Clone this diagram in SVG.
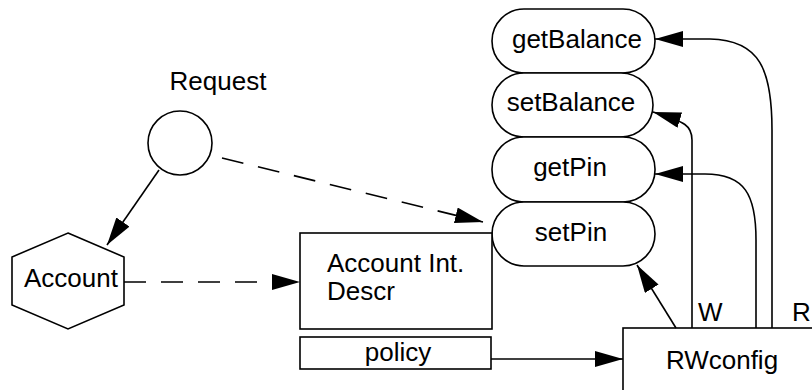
<svg xmlns="http://www.w3.org/2000/svg" width="812" height="390" viewBox="0 0 812 390">
<defs>
<style>
.s{fill:#fff;stroke:#000;stroke-width:1.6}
.t{font-family:"Liberation Sans",Arial,sans-serif;font-size:26px;fill:#000}
.m{text-anchor:middle}
.c{fill:none;stroke:#000;stroke-width:1.6}
.d{stroke-dasharray:22,15}
</style>
<marker id="ah" markerUnits="userSpaceOnUse" markerWidth="30" markerHeight="18" refX="28" refY="8" orient="auto">
<path d="M0,0 L28,8 L0,16 z" fill="#000"/>
</marker>
</defs>
<rect width="812" height="390" fill="#fff"/>
<g id="getBalance"><rect class="s" x="492" y="9" width="163" height="64" rx="32"/><text class="t m" x="577" y="48">getBalance</text></g>
<g id="setBalance"><rect class="s" x="492" y="73" width="161" height="64" rx="32"/><text class="t m" x="571" y="111">setBalance</text></g>
<g id="getPin"><rect class="s" x="492" y="137" width="163" height="65" rx="32"/><text class="t m" x="570" y="176">getPin</text></g>
<g id="setPin"><rect class="s" x="492" y="202" width="163" height="64" rx="32"/><text class="t m" x="571" y="241">setPin</text></g>
<g id="request"><circle class="s" cx="180" cy="143" r="32"/><text class="t m" x="218" y="90">Request</text></g>
<g id="account"><polygon class="s" points="68,233 124,257 124,305 68,329 12,305 12,257"/><text class="t" x="24" y="287">Account</text></g>
<g id="accountIntDescr"><rect class="s" x="300" y="233" width="192" height="96"/><text class="t" x="327" y="272">Account Int.</text><text class="t" x="327" y="300">Descr</text></g>
<g id="policy"><rect class="s" x="300" y="337" width="191" height="32"/><text class="t m" x="398" y="361">policy</text></g>
<g id="rwconfig"><rect class="s" x="623" y="328" width="200" height="80"/><text class="t m" x="722" y="369">RWconfig</text></g>
<g id="connectors">
<line class="c" x1="159" y1="170" x2="107" y2="245" marker-end="url(#ah)"/>
<line class="c d" x1="222" y1="158" x2="483" y2="222" marker-end="url(#ah)"/>
<line class="c d" x1="124" y1="282" x2="300" y2="282" marker-end="url(#ah)"/>
<line class="c" x1="676" y1="328" x2="637" y2="265" marker-end="url(#ah)"/>
<line class="c" x1="491" y1="359" x2="623" y2="359" marker-end="url(#ah)"/>
<path class="c" d="M692,328 L692,140 C692,126 686,122 653,112" marker-end="url(#ah)"/>
<path class="c" d="M756,328 L756,240 C756,195 745,174 705,174 L655,174" marker-end="url(#ah)"/>
<path class="c" d="M772,328 L772,130 C772,70 760,40 710,39 L655,39" marker-end="url(#ah)"/>
<text class="t" x="698" y="321">W</text>
<text class="t" x="792" y="321">R</text>
</g>
</svg>
